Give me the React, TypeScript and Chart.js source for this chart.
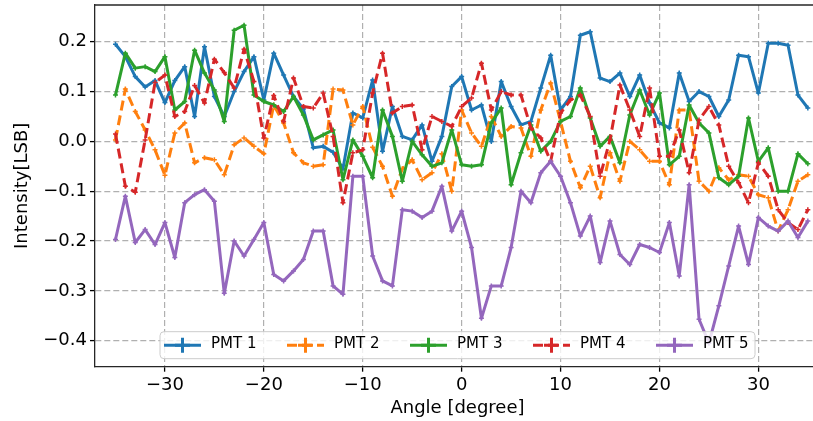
import React, { useEffect, useRef } from "react";
import { Chart, registerables } from "chart.js";

Chart.register(...registerables);

// Angle of each measurement, in degrees
const angles = [
  -35, -34, -33, -32, -31, -30, -29, -28, -27, -26, -25, -24, -23, -22, -21, -20, -19, -18,
  -17, -16, -15, -14, -13, -12, -11, -10, -9, -8, -7, -6, -5, -4, -3, -2, -1, 0,
  1, 2, 3, 4, 5, 6, 7, 8, 9, 10, 11, 12, 13, 14, 15, 16, 17, 18,
  19, 20, 21, 22, 23, 24, 25, 26, 27, 28, 29, 30, 31, 32, 33, 34, 35,
];

// Intensity per photomultiplier tube, in LSB
const pmt1 = [
  0.195, 0.17, 0.13, 0.109, 0.122, 0.078, 0.122, 0.15, 0.05, 0.19, 0.09, 0.05, 0.1, 0.14, 0.17, 0.083, 0.177, 0.133,
  0.09, 0.065, -0.013, -0.01, -0.022, -0.055, 0.057, 0.047, 0.123, -0.02, 0.07, 0.01, 0.003, 0.033, -0.04, 0.01, 0.11, 0.13,
  0.063, 0.073, 0.0, 0.12, 0.07, 0.033, 0.04, 0.107, 0.173, 0.063, 0.09, 0.213, 0.22, 0.127, 0.12, 0.137, 0.09, 0.133,
  0.077, 0.037, 0.027, 0.137, 0.08, 0.1, 0.09, 0.05, 0.083, 0.173, 0.17, 0.097, 0.197, 0.197, 0.193, 0.093, 0.067,
];
const pmt2 = [
  0.003, 0.105, 0.06, 0.023, -0.017, -0.068, 0.017, 0.037, -0.043, -0.033, -0.037, -0.067, -0.007, 0.007, -0.01, -0.025, 0.073, 0.037,
  -0.023, -0.043, -0.05, -0.047, 0.105, 0.103, 0.033, 0.07, -0.012, -0.05, -0.11, -0.055, -0.037, -0.077, -0.063, -0.025, -0.1, 0.063,
  0.017, -0.01, 0.05, 0.01, 0.03, 0.027, -0.03, 0.063, 0.117, 0.04, -0.04, -0.093, -0.05, -0.113, -0.023, -0.08, 0.0, -0.017,
  -0.04, -0.04, -0.087, 0.063, 0.063, -0.08, -0.1, -0.053, -0.077, -0.067, -0.07, -0.107, -0.113, -0.18, -0.137, -0.08, -0.067,
];
const pmt3 = [
  0.093, 0.177, 0.147, 0.15, 0.14, 0.17, 0.063, 0.08, 0.183, 0.137, 0.103, 0.04, 0.223, 0.233, 0.093, 0.08, 0.073, 0.06,
  0.09, 0.053, 0.003, 0.013, 0.023, -0.077, 0.003, -0.03, -0.073, 0.063, 0.01, -0.08, 0.0, -0.027, -0.05, -0.043, 0.023, -0.047,
  -0.05, -0.047, 0.037, 0.067, -0.087, -0.023, 0.033, -0.02, 0.0, 0.04, 0.05, 0.107, 0.047, -0.01, 0.01, -0.043, 0.053, 0.103,
  0.053, 0.097, -0.047, -0.03, 0.073, 0.037, 0.017, -0.073, -0.087, -0.07, 0.047, -0.04, -0.013, -0.1, -0.1, -0.025, -0.045,
];
const pmt4 = [
  0.015, -0.09, -0.102, 0.003, 0.118, 0.133, 0.05, 0.06, 0.112, 0.077, 0.165, 0.138, 0.107, 0.185, 0.12, 0.007, 0.092, 0.04,
  0.127, 0.07, 0.067, 0.097, 0.01, -0.123, -0.023, -0.017, 0.097, 0.177, 0.057, 0.07, 0.073, -0.017, 0.05, 0.04, 0.03, 0.07,
  0.087, 0.157, 0.063, 0.1, 0.093, 0.093, 0.027, 0.007, -0.04, 0.057, 0.083, 0.093, 0.05, -0.07, 0.003, 0.113, 0.063, 0.01,
  0.107, -0.03, -0.03, 0.023, -0.063, 0.043, 0.07, 0.033, -0.05, -0.083, -0.123, -0.043, -0.07, -0.137, -0.163, -0.177, -0.137,
];
const pmt5 = [
  -0.197, -0.11, -0.203, -0.177, -0.207, -0.163, -0.233, -0.123, -0.107, -0.097, -0.12, -0.305, -0.2, -0.23, -0.197, -0.163, -0.267, -0.28,
  -0.26, -0.237, -0.18, -0.18, -0.29, -0.307, -0.07, -0.07, -0.23, -0.28, -0.29, -0.137, -0.14, -0.153, -0.14, -0.09, -0.18, -0.14,
  -0.213, -0.355, -0.29, -0.29, -0.213, -0.1, -0.123, -0.063, -0.04, -0.07, -0.123, -0.19, -0.15, -0.243, -0.16, -0.227, -0.247, -0.207,
  -0.213, -0.223, -0.163, -0.27, -0.087, -0.357, -0.405, -0.33, -0.25, -0.17, -0.247, -0.153, -0.17, -0.18, -0.16, -0.193, -0.16,
];

const seriesLabels = ["PMT 1", "PMT 2", "PMT 3", "PMT 4", "PMT 5"];
const seriesValues = [pmt1, pmt2, pmt3, pmt4, pmt5];
const seriesColors = ["#1f77b4", "#ff7f0e", "#2ca02c", "#d62728", "#9467bd"];
const seriesDashed = [false, true, false, true, false];

const xTickValues = [-30, -20, -10, 0, 10, 20, 30];
const yTickValues = [-0.4, -0.3, -0.2, -0.1, 0, 0.1, 0.2];

const FONT = "'DejaVu Sans', sans-serif";

const signed = (v: number, digits: number) => {
  const s = Math.abs(v).toFixed(digits);
  return v < -1e-9 ? "\u2212" + s : s;
};

// Legend inside the plot, along its lower edge, plus the top frame line
const frameAndLegend = {
  id: "frameAndLegend",
  afterDraw(chart: any) {
    const { ctx, chartArea } = chart;
    ctx.save();

    ctx.strokeStyle = "#262626";
    ctx.lineWidth = 1.3;
    ctx.beginPath();
    ctx.moveTo(chartArea.left, chartArea.top);
    ctx.lineTo(chartArea.right, chartArea.top);
    ctx.stroke();

    const entryW = 123;
    const boxW = 595;
    const boxH = 27;
    const cx = (chartArea.left + chartArea.right) / 2;
    const x0 = cx - boxW / 2;
    const y0 = chartArea.bottom - 8 - boxH;

    ctx.beginPath();
    ctx.roundRect(x0, y0, boxW, boxH, 4);
    ctx.fillStyle = "rgba(255,255,255,0.8)";
    ctx.fill();
    ctx.strokeStyle = "#cccccc";
    ctx.lineWidth = 1;
    ctx.stroke();

    const cy = y0 + boxH / 2;
    chart.data.datasets.forEach((ds: any, i: number) => {
      const hx = x0 + 4 + i * entryW;
      ctx.strokeStyle = ds.borderColor;
      ctx.lineWidth = 3;
      ctx.lineCap = "butt";
      ctx.setLineDash(ds.borderDash || []);
      ctx.beginPath();
      ctx.moveTo(hx, cy);
      ctx.lineTo(hx + 37, cy);
      ctx.stroke();
      ctx.setLineDash([]);
      ctx.beginPath();
      ctx.moveTo(hx + 18.5, cy - 7.5);
      ctx.lineTo(hx + 18.5, cy + 7.5);
      ctx.moveTo(hx + 11, cy);
      ctx.lineTo(hx + 26, cy);
      ctx.stroke();

      ctx.fillStyle = "#000";
      ctx.font = `15px ${FONT}`;
      ctx.textAlign = "left";
      ctx.textBaseline = "middle";
      ctx.fillText(ds.label, hx + 47, cy - 1);
    });

    ctx.restore();
  },
};

export default function App() {
  const canvasRef = useRef<HTMLCanvasElement | null>(null);

  useEffect(() => {
    const canvas = canvasRef.current;
    if (!canvas) return;

    const datasets = seriesLabels.map((label, i) => ({
      label,
      data: angles.map((a, j) => ({ x: a, y: seriesValues[i][j] })),
      borderColor: seriesColors[i],
      backgroundColor: seriesColors[i],
      borderWidth: 3,
      borderDash: seriesDashed[i] ? [10, 5] : [],
      borderJoinStyle: "round" as const,
      pointStyle: "cross" as const,
      pointRadius: 2.5,
      pointBorderWidth: 1.5,
      pointHoverRadius: 0,
      tension: 0,
      fill: false,
      order: seriesLabels.length - i,
    }));

    const chart = new Chart(canvas, {
      type: "line",
      data: { datasets },
      options: {
        animation: false,
        responsive: false,
        devicePixelRatio: 1,
        events: [],
        layout: { padding: { top: 5, right: 0, bottom: 0, left: 0 } },
        plugins: {
          legend: { display: false },
          tooltip: { enabled: false },
        },
        scales: {
          x: {
            type: "linear",
            min: -37.07,
            max: 36.23,
            afterBuildTicks: (scale: any) => {
              scale.ticks = xTickValues.map((v) => ({ value: v }));
            },
            afterFit: (scale: any) => {
              scale.height = 54.3;
              scale.paddingLeft = 0;
              scale.paddingRight = 0;
            },
            ticks: {
              callback: (v: any) => signed(Number(v), 0),
              color: "#000",
              font: { family: FONT, size: 18 },
              padding: 3,
              maxRotation: 0,
              autoSkip: false,
            },
            grid: {
              color: "#b0b0b0",
              lineWidth: 1.2,
              tickLength: 5,
              tickColor: "#000",
              tickWidth: 1.3,
            },
            border: { display: true, color: "#262626", width: 1.3, dash: [6, 3] },
            title: {
              display: true,
              text: "Angle [degree]",
              color: "#000",
              font: { family: FONT, size: 18 },
              padding: { top: 0, bottom: 2 },
            },
          },
          y: {
            type: "linear",
            min: -0.4522,
            max: 0.2737,
            afterBuildTicks: (scale: any) => {
              scale.ticks = yTickValues.map((v) => ({ value: v }));
            },
            afterFit: (scale: any) => {
              scale.width = 95;
              scale.paddingTop = 0;
              scale.paddingBottom = 0;
            },
            ticks: {
              callback: (v: any) => signed(Number(v), 1),
              color: "#000",
              font: { family: FONT, size: 18 },
              padding: 3,
              autoSkip: false,
            },
            grid: {
              color: "#b0b0b0",
              lineWidth: 1.2,
              tickLength: 5,
              tickColor: "#000",
              tickWidth: 1.3,
            },
            border: { display: true, color: "#262626", width: 1.3, dash: [6, 3] },
            title: {
              display: true,
              text: "Intensity[LSB]",
              color: "#000",
              font: { family: FONT, size: 18 },
              padding: { top: 12, bottom: 0 },
            },
          },
        },
      },
      plugins: [frameAndLegend],
    });

    return () => chart.destroy();
  }, []);

  return (
    <div
      style={{
        position: "absolute",
        left: 0,
        top: 0,
        width: 813,
        height: 421,
        overflow: "hidden",
        background: "#fff",
      }}
    >
      <canvas ref={canvasRef} width={824} height={421} style={{ display: "block" }} />
    </div>
  );
}
